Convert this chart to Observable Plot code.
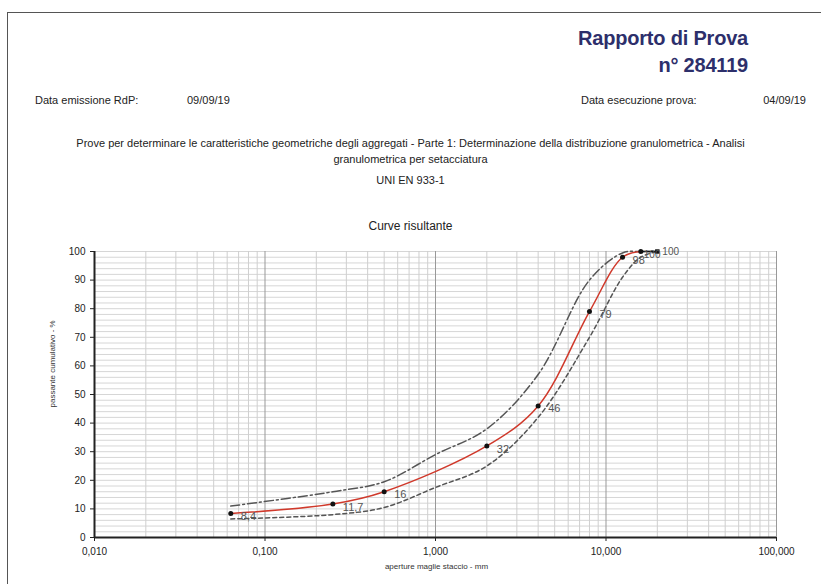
<!DOCTYPE html>
<html><head><meta charset="utf-8">
<script src="https://cdn.jsdelivr.net/npm/d3@7"></script>
<script src="https://cdn.jsdelivr.net/npm/@observablehq/plot@0.6"></script>
<style>
body{margin:0;background:#fff;font-family:"Liberation Sans",Arial,sans-serif;}
#page{position:relative;width:821px;height:584px;overflow:hidden;background:#fff;}
.t{position:absolute;white-space:nowrap;color:#222;font-size:11px;}
#chart{position:absolute;left:0;top:230px;}
</style></head><body>
<div id="page">
  <div style="position:absolute;left:7px;top:12px;width:1px;height:580px;background:#555"></div>
  <div style="position:absolute;left:7px;top:12px;width:820px;height:1px;background:#555"></div>
  <div class="t" style="right:73px;top:27px;font-size:20px;font-weight:bold;color:#2d2f6b;letter-spacing:-0.2px;">Rapporto di Prova</div>
  <div class="t" style="right:73px;top:54px;font-size:20px;font-weight:bold;color:#2d2f6b;letter-spacing:-0.2px;">n° 284119</div>
  <div class="t" style="left:35px;top:94px;">Data emissione RdP:</div>
  <div class="t" style="left:187px;top:94px;">09/09/19</div>
  <div class="t" style="left:581px;top:94px;">Data esecuzione prova:</div>
  <div class="t" style="right:15px;top:94px;">04/09/19</div>
  <div class="t" style="left:0;width:821px;text-align:center;top:137px;">Prove per determinare le caratteristiche geometriche degli aggregati - Parte 1: Determinazione della distribuzione granulometrica - Analisi</div>
  <div class="t" style="left:0;width:821px;text-align:center;top:153px;">granulometrica per setacciatura</div>
  <div class="t" style="left:0;width:821px;text-align:center;top:174px;">UNI EN 933-1</div>
  <div class="t" style="left:0;width:821px;text-align:center;top:219px;font-size:12px;">Curve risultante</div>
  <div id="chart"></div>
</div>
<script>
// Data
const sieves = [0.063, 0.25, 0.5, 2, 4, 8, 12.5, 16];
const passing = [8.4, 11.7, 16, 32, 46, 79, 98, 100];
const pointLabels = ["8,4", "11,7", "16", "32", "46", "79", "98", "100"];
const extraSieves = [16, 20];
const extraPassing = [100, 100];
const extraLabels = ["", "100"];
const envSieves = [0.063, 0.25, 0.5, 1, 2, 4, 8, 12.5, 16, 20];
const upperLimit = [11, 16, 19.5, 29, 38, 57, 90, 99.5, 100, 100];
const lowerLimit = [6.5, 8, 10.5, 17.5, 25, 42, 70, 91, 98, 100];
const xTicks = [0.01, 0.1, 1, 10, 100];
const xTickLabels = ["0,010", "0,100", "1,000", "10,000", "100,000"];
const yTicks = [0, 10, 20, 30, 40, 50, 60, 70, 80, 90, 100];

const main = sieves.map((s, i) => ({s, p: passing[i], label: pointLabels[i]}));
const extra = extraSieves.map((s, i) => ({s, p: extraPassing[i], label: extraLabels[i]}));
const upper = envSieves.map((s, i) => ({s, p: upperLimit[i]}));
const lower = envSieves.map((s, i) => ({s, p: lowerLimit[i]}));

const minorX = [];
for (const d of [0.01, 0.1, 1, 10]) for (let k = 2; k <= 9; k++) minorX.push(+(d * k).toPrecision(3));
const minorY = d3.range(0, 101, 2);

const chart = Plot.plot({
  width: 821,
  height: 354,
  marginLeft: 94,
  marginRight: 45,
  marginTop: 21,
  marginBottom: 47,
  style: {fontFamily: "Liberation Sans, Arial, sans-serif", fontSize: "10px", color: "#222", background: "transparent"},
  x: {type: "log", domain: [0.01, 100], ticks: xTicks, tickFormat: (d) => xTickLabels[xTicks.indexOf(d)], label: null, tickSize: 4},
  y: {domain: [0, 100], ticks: yTicks, label: null, tickSize: 4},
  marks: [
    Plot.ruleY(minorY, {stroke: "#d6d6d6", strokeWidth: 1}),
    Plot.ruleX(minorX, {stroke: "#cfcfcf", strokeWidth: 1}),
    Plot.ruleX(xTicks, {stroke: "#999", strokeWidth: 1}),
    Plot.line(upper, {x: "s", y: "p", stroke: "#555", strokeWidth: 1.5, strokeDasharray: "9,3,2,3", curve: "catmull-rom"}),
    Plot.line(lower, {x: "s", y: "p", stroke: "#555", strokeWidth: 1.5, strokeDasharray: "4,3", curve: "catmull-rom"}),
    Plot.line(main, {x: "s", y: "p", stroke: "#d0392b", strokeWidth: 1.5, curve: "catmull-rom"}),
    Plot.line(extra, {x: "s", y: "p", stroke: "#111", strokeWidth: 1.5}),
    Plot.dot(main, {x: "s", y: "p", r: 2.5, fill: "#111"}),
    Plot.dot(extra.slice(1), {x: "s", y: "p", r: 2.5, fill: "#111", symbol: "square"}),
    Plot.text(main.slice(0, -1), {x: "s", y: "p", text: "label", textAnchor: "start", dx: 10, dy: 3, fill: "#555", fontSize: 11}),
    Plot.text(main.slice(-1), {x: "s", y: "p", text: "label", textAnchor: "start", dx: 3, dy: 3, fill: "#555", fontSize: 10}),
    Plot.text(extra.slice(1), {x: "s", y: "p", text: "label", textAnchor: "start", dx: 5, dy: 0, fill: "#555", fontSize: 10}),
    Plot.axisY({ticks: yTicks, tickSize: 4, fontSize: 10}),
    Plot.axisX({ticks: xTicks, tickSize: 4, tickFormat: (d) => xTickLabels[xTicks.indexOf(d)], fontSize: 10, tickPadding: 6}),
    Plot.ruleX([0.01], {stroke: "#222", strokeWidth: 2}),
    Plot.ruleY([0], {stroke: "#222", strokeWidth: 2}),
    Plot.text(["passante cumulativo - %"], {frameAnchor: "left", dx: -42, rotate: -90, fontSize: 8, fill: "#333", dy: 13}),
    Plot.text(["aperture maglie staccio - mm"], {frameAnchor: "bottom", dy: 31, fontSize: 8, fill: "#333", dx: 1})
  ]
});
document.getElementById("chart").appendChild(chart);
</script>
</body></html>
